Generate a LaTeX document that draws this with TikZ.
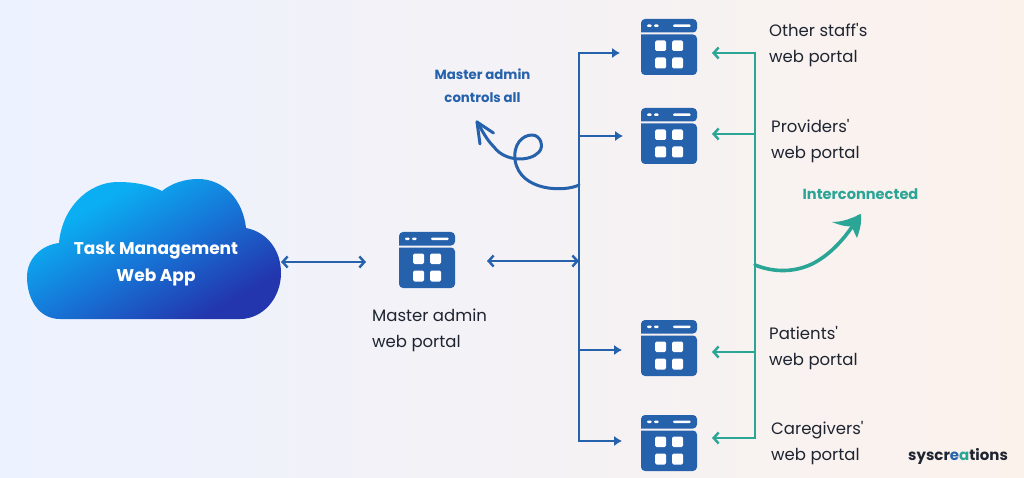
\documentclass[tikz,border=0pt]{standalone}
\usepackage{fontspec}
\setmainfont{Poppins}
\usetikzlibrary{arrows.meta}
\definecolor{bgL}{HTML}{ECF2FF}
\definecolor{bgM}{HTML}{F2F4FC}
\definecolor{bgR}{HTML}{FCF2EC}
\definecolor{portal}{HTML}{2661AC}
\definecolor{teal}{HTML}{2BA596}
\definecolor{cloudA}{HTML}{0BAEF2}
\definecolor{cloudM}{HTML}{1678D8}
\definecolor{cloudB}{HTML}{2336AE}
\definecolor{ink}{HTML}{1E2430}
\pgfdeclareverticalshading{cloudfill}{100bp}{color(0bp)=(cloudB); color(34bp)=(cloudB); color(50bp)=(cloudM); color(63bp)=(cloudA); color(100bp)=(cloudA)}
\tikzset{
  bluebus/.style={draw=portal,line width=2.6pt},
  bluesolid/.style={bluebus,-{Latex[length=8pt,width=10.5pt]}},
  blueopen/.style={bluebus,{Straight Barb[length=5pt,width=11pt,line width=2.4pt]}-{Straight Barb[length=5pt,width=11pt,line width=2.4pt]}},
  tealbus/.style={draw=teal,line width=2.6pt},
  tealopen/.style={tealbus,-{Straight Barb[length=5pt,width=11pt,line width=2.4pt]}},
  portaltext/.style={align=left,anchor=west,inner sep=0pt,text=ink,font=\fontsize{16.5}{26}\selectfont},
  iconbox/.style={minimum width=56pt,minimum height=56pt,inner sep=0pt,anchor=north west},
  iconcell/.style={fill=white,rounded corners=1.5pt},
}
\newcommand{\portalicon}[3]{%
  \node[iconbox] (#1) at (#2,#3) {};
  \begin{scope}[shift={(#2,#3)}]
    \fill[portal,rounded corners=4pt] (0,13.5) -- (0,0) -- (56,0) -- (56,13.5) [sharp corners] -- cycle;
    \fill[portal,rounded corners=4pt] (0,15.5) -- (0,56) -- (56,56) -- (56,15.5) [sharp corners] -- cycle;
    \fill[white,rounded corners=1pt] (6,5.5) rectangle (10.5,8);
    \fill[white,rounded corners=1pt] (13,5.5) rectangle (17.5,8);
    \fill[white,rounded corners=1pt] (32,5.5) rectangle (49.5,8);
    \fill[iconcell] (14,21.5) rectangle (25,32);
    \fill[iconcell] (31,21.5) rectangle (42,32);
    \fill[iconcell] (14,38.5) rectangle (25,49.5);
    \fill[iconcell] (31,38.5) rectangle (42,49.5);
  \end{scope}}
\begin{document}
\begin{tikzpicture}[x=1pt,y=-1pt]
\useasboundingbox (0,0) rectangle (1024,478);
\shade[left color=bgL,middle color=bgM,right color=bgR] (0,0) rectangle (1024,478);

% cloud
\begin{scope}
  \clip (60,319)
    .. controls (38,319) and (27,298) .. (27,277)
    .. controls (27,258) and (42,245) .. (59,243)
    .. controls (62,208) and (88,182) .. (118,182)
    .. controls (135,182) and (150,185) .. (162,191)
    .. controls (172,183) and (185,179) .. (198,179)
    .. controls (224,179) and (243,200) .. (246,228)
    .. controls (267,232) and (281,250) .. (281,273)
    .. controls (281,298) and (263,319) .. (240,319)
    -- cycle;
  \path[shading=cloudfill,shading angle=30] (24,119) rectangle (284,379);
\end{scope}
\node[text=white,align=center,inner sep=0pt,font=\fontsize{17}{27}\selectfont\bfseries] (cloud) at (156,263.5) {Task Management\\Web App};

% icons
\portalicon{master}{399}{232}
\portalicon{p1}{641}{19}
\portalicon{p2}{641}{108}
\portalicon{p3}{641}{320}
\portalicon{p4}{641}{415}

% named anchors
\coordinate (cloudR) at (281,262);
\coordinate (masterL) at (366,262);
\coordinate (masterR) at (487,261);
\coordinate (busM) at (579,261);
\coordinate (bT) at (579,53);
\coordinate (b2) at (579,136);
\coordinate (b3) at (579,350);
\coordinate (bB) at (579,441);
\coordinate (e1) at (620,53);
\coordinate (e2) at (623,136);
\coordinate (e3) at (622,350);
\coordinate (e4) at (622,441);
\coordinate (tT) at (755,53);
\coordinate (t2) at (755,134);
\coordinate (t3) at (755,352);
\coordinate (tB) at (755,438);
\coordinate (f1) at (712,53);
\coordinate (f2) at (712,134);
\coordinate (f3) at (712,352);
\coordinate (f4) at (712,438);
\coordinate (curlS) at (579,185);
\coordinate (curlE) at (477,122);
\coordinate (swS) at (755,265);
\coordinate (swE) at (859,216);

% blue connectors
\draw[blueopen] (cloudR) -- (masterL);
\draw[blueopen] (masterR) -- (busM);
\draw[bluebus,line cap=rect] (bT) -- (bB);
\draw[bluesolid] (bT) -- (e1);
\draw[bluesolid] (b2) -- (e2);
\draw[bluesolid] (b3) -- (e3);
\draw[bluesolid] (bB) -- (e4);

% blue curl
\draw[portal,line width=3pt,line cap=round,line join=round]
  (curlS) .. controls (565,192) and (520,192) .. (515,160)
  .. controls (513,145) and (522,135) .. (532,135)
  .. controls (541,135) and (544,147) .. (539,152)
  .. controls (530,162) and (505,162) .. (494,147)
  .. controls (486,139) and (482,130) .. (curlE);
\draw[portal,line width=3pt,line cap=round,line join=round]
  (493.5,133) -- (curlE) -- (480,144);

% teal connectors
\draw[tealbus,line cap=rect] (tT) -- (tB);
\draw[tealopen] (tT) -- (f1);
\draw[tealopen] (t2) -- (f2);
\draw[tealopen] (t3) -- (f3);
\draw[tealopen] (tB) -- (f4);

% teal swoosh
\draw[teal,line width=3.6pt,line cap=round]
  (swS) .. controls (775,273) and (795,272) .. (812,264)
  .. controls (830,255) and (846,238) .. (swE);
\fill[teal,line join=round] (swE) ++(2,-2)
  .. controls (850,219) and (842,222) .. (832,222)
  .. controls (842,226) and (848,227) .. (852,226)
  .. controls (853,230) and (855,234) .. (857,238)
  .. controls (859,232) and (862,224) .. (861,214) -- cycle;

% texts
\node[portaltext] (l0) at (372,330) {Master admin\\web portal};
\node[portaltext] (l1) at (769,45.5) {Other staff\textquotesingle s\\web portal};
\node[portaltext] (l2) at (771,141) {Providers\textquotesingle\\web portal};
\node[portaltext] (l3) at (769,348) {Patients\textquotesingle\\web portal};
\node[portaltext] (l4) at (771,443) {Caregivers\textquotesingle\\web portal};

\node[align=center,inner sep=0pt,text=portal,font=\fontsize{13.3}{23}\selectfont\bfseries] (n1) at (482.5,85.5) {Master admin\\controls all};
\node[inner sep=0pt,text=teal,font=\fontsize{14.6}{16}\selectfont\bfseries] (n2) at (860.5,194) {Interconnected};
\node[inner sep=0pt,anchor=base west,text=ink,font=\fontsize{15}{18}\selectfont\bfseries] (logo) at (908,460) {syscr\textcolor{portal}{e}\textcolor{teal}{a}tions};
\end{tikzpicture}
\end{document}
